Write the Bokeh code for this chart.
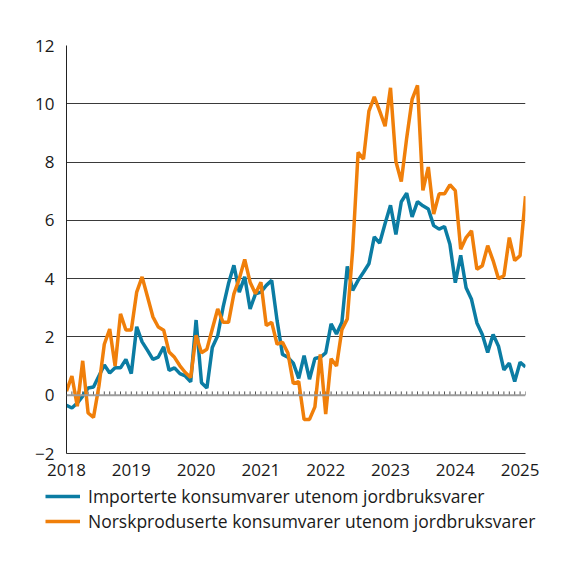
from bokeh.plotting import figure
from bokeh.layouts import column
from bokeh.models import Range1d, FixedTicker, Span, Legend, LegendItem
from bokeh.embed import file_html
from bokeh.resources import INLINE

years = ["2018", "2019", "2020", "2021", "2022", "2023", "2024", "2025"]
y_ticks = [-2, 0, 2, 4, 6, 8, 10, 12]

label_imp = "Importerte konsumvarer utenom jordbruksvarer"
label_nor = "Norskproduserte konsumvarer utenom jordbruksvarer"

# Monthly values, Jan 2018 - Feb 2025
importerte = [
    -0.35, -0.44, -0.27, -0.03, 0.25, 0.28, 0.66, 1.04, 0.76, 0.94, 0.94, 1.23,
    0.74, 2.35, 1.83, 1.54, 1.23, 1.31, 1.66, 0.85, 0.94, 0.74, 0.66, 0.46,
    2.58, 0.43, 0.25, 1.64, 2.04, 3.02, 3.83, 4.46, 3.54, 4.06, 2.96, 3.48,
    3.54, 3.77, 3.94, 2.56, 1.40, 1.30, 1.10, 0.58, 1.36, 0.55, 1.26, 1.30,
    1.45, 2.45, 2.10, 2.50, 4.42, 3.60, 3.94, 4.22, 4.51, 5.43, 5.22, 5.89,
    6.52, 5.52, 6.64, 6.93, 6.12, 6.64, 6.50, 6.39, 5.82, 5.70, 5.79, 5.18,
    3.86, 4.80, 3.69, 3.29, 2.48, 2.08, 1.47, 2.08, 1.68, 0.87, 1.10, 0.47,
    1.13, 0.97,
]
norskproduserte = [
    0.14, 0.66, -0.38, 1.18, -0.61, -0.76, 0.31, 1.75, 2.27, 1.00, 2.79, 2.24,
    2.24, 3.54, 4.06, 3.38, 2.69, 2.34, 2.23, 1.48, 1.30, 1.01, 0.78, 0.61,
    2.06, 1.46, 1.58, 2.27, 2.96, 2.50, 2.50, 3.48, 4.00, 4.66, 3.88, 3.48,
    3.88, 2.39, 2.50, 1.75, 1.82, 1.45, 0.40, 0.47, -0.83, -0.83, -0.40, 1.40,
    -0.65, 1.25, 1.00, 2.25, 2.62, 5.00, 8.33, 8.10, 9.75, 10.24, 9.75, 9.23,
    10.55, 8.02, 7.33, 8.83, 10.15, 10.63, 7.03, 7.83, 6.22, 6.91, 6.91, 7.22,
    7.02, 5.01, 5.41, 5.64, 4.32, 4.44, 5.13, 4.62, 4.00, 4.10, 5.41, 4.62,
    4.79, 6.83,
]
months = list(range(len(importerte)))

BLUE = "#0b7ca3"
ORANGE = "#f07f0a"
FONT = "Open Sans"
LW = 3.5

p = figure(width=560, height=485, output_backend="svg", toolbar_location=None,
           x_range=Range1d(0, len(months) - 1), y_range=Range1d(-2, 12),
           min_border_left=66, min_border_right=35, min_border_top=45,
           min_border_bottom=32)
p.outline_line_color = None
p.background_fill_color = "white"
p.border_fill_color = "white"

p.xgrid.visible = False
p.ygrid.ticker = FixedTicker(ticks=[t for t in y_ticks if t > 0])
p.ygrid.grid_line_color = "#3a3a3a"
p.ygrid.grid_line_width = 1

zero = Span(location=0, dimension="width", line_color="#9c9c9c", line_width=2)
p.add_layout(zero)
p.segment(x0=months, y0=[0] * len(months), x1=months, y1=[0.13] * len(months),
          line_color="#555555", line_width=1)

p.line(months, importerte, line_color=BLUE, line_width=LW)
p.line(months, norskproduserte, line_color=ORANGE, line_width=LW)

p.yaxis.ticker = FixedTicker(ticks=y_ticks)
p.yaxis.major_tick_line_color = None
p.yaxis.minor_tick_line_color = None
p.yaxis.axis_line_color = "#222222"
p.yaxis.major_label_text_font_size = "17px"
p.yaxis.major_label_text_font = FONT
p.yaxis.major_label_text_color = "#1a1a1a"
p.yaxis.major_label_standoff = 6

p.xaxis.ticker = FixedTicker(ticks=[12 * k for k in range(len(years))])
p.xaxis.major_label_overrides = {12 * k: y for k, y in enumerate(years)}
p.xaxis.major_tick_line_color = None
p.xaxis.minor_tick_line_color = None
p.xaxis.axis_line_color = "#333333"
p.xaxis.major_label_text_font_size = "17px"
p.xaxis.major_label_text_font = FONT
p.xaxis.major_label_text_color = "#1a1a1a"
p.xaxis.major_label_standoff = 4

# legend panel (series drawn out of view; only the legend shows)
q = figure(width=560, height=67, output_backend="svg", toolbar_location=None,
           x_range=Range1d(0, 1), y_range=Range1d(100, 101),
           x_axis_location=None, y_axis_location=None, min_border=0)
q.grid.visible = False
q.outline_line_color = None
q.background_fill_color = "white"
q.border_fill_color = "white"
p.frame_align = False
q.frame_align = False
l_imp = q.line(months, importerte, line_color=BLUE, line_width=LW)
l_nor = q.line(months, norskproduserte, line_color=ORANGE, line_width=LW)
legend = Legend(items=[LegendItem(label=label_imp, renderers=[l_imp]),
                       LegendItem(label=label_nor, renderers=[l_nor])],
                location=(45, 19), orientation="vertical",
                glyph_width=35, glyph_height=20, label_height=20,
                label_standoff=8, spacing=1, padding=0, margin=0,
                label_text_font_size="17.5px", label_text_font=FONT,
                label_text_color="#1a1a1a",
                border_line_color=None, background_fill_alpha=0)
q.add_layout(legend, "center")

layout = column(p, q, spacing=0)
open("out.html", "w").write(file_html(layout, INLINE))
